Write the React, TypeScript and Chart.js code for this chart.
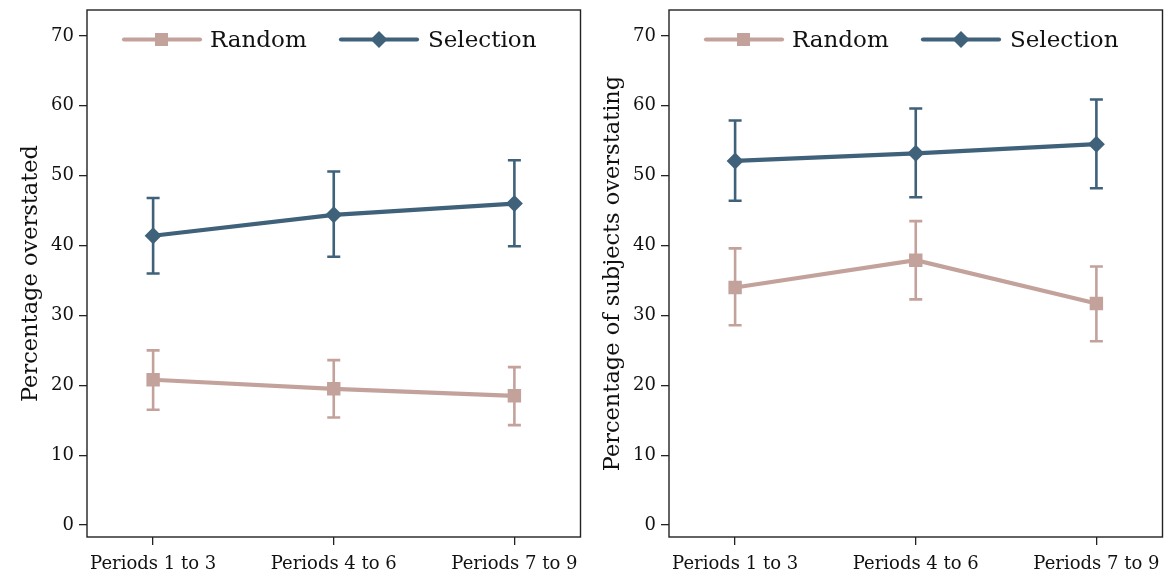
import React, { useEffect, useRef } from "react";
import { Chart, registerables } from "chart.js";

Chart.register(...registerables);

const categories = ["Periods 1 to 3", "Periods 4 to 6", "Periods 7 to 9"];
const yTicks = [0, 10, 20, 30, 40, 50, 60, 70];
const seriesNames = ["Random", "Selection"];

const leftRandom = [20.8, 19.5, 18.5];
const leftRandomLow = [16.5, 15.4, 14.3];
const leftRandomHigh = [25.0, 23.6, 22.6];
const leftSelection = [41.4, 44.4, 46.0];
const leftSelectionLow = [36.0, 38.4, 39.9];
const leftSelectionHigh = [46.8, 50.6, 52.2];

const rightRandom = [34.0, 37.9, 31.7];
const rightRandomLow = [28.6, 32.3, 26.3];
const rightRandomHigh = [39.6, 43.5, 37.0];
const rightSelection = [52.1, 53.2, 54.5];
const rightSelectionLow = [46.4, 46.9, 48.2];
const rightSelectionHigh = [57.9, 59.6, 60.9];

const leftTitle = "Percentage overstated";
const rightTitle = "Percentage of subjects overstating";

const RANDOM_COLOR = "#c4a29c";
const SELECTION_COLOR = "#3f6179";
const FONT = "'DejaVu Serif', serif";

type PanelData = {
  title: string;
  random: number[];
  randomLow: number[];
  randomHigh: number[];
  selection: number[];
  selectionLow: number[];
  selectionHigh: number[];
};

const panels: PanelData[] = [
  {
    title: leftTitle,
    random: leftRandom,
    randomLow: leftRandomLow,
    randomHigh: leftRandomHigh,
    selection: leftSelection,
    selectionLow: leftSelectionLow,
    selectionHigh: leftSelectionHigh,
  },
  {
    title: rightTitle,
    random: rightRandom,
    randomLow: rightRandomLow,
    randomHigh: rightRandomHigh,
    selection: rightSelection,
    selectionLow: rightSelectionLow,
    selectionHigh: rightSelectionHigh,
  },
];

function drawSquare(ctx: CanvasRenderingContext2D, x: number, y: number, half: number) {
  ctx.fillRect(x - half, y - half, half * 2, half * 2);
}
function drawDiamond(ctx: CanvasRenderingContext2D, x: number, y: number, r: number) {
  ctx.beginPath();
  ctx.moveTo(x, y - r);
  ctx.lineTo(x + r, y);
  ctx.lineTo(x, y + r);
  ctx.lineTo(x - r, y);
  ctx.closePath();
  ctx.fill();
}

function makeChart(canvas: HTMLCanvasElement, p: PanelData) {
  const errorBars = [
    { low: p.randomLow, high: p.randomHigh, color: RANDOM_COLOR },
    { low: p.selectionLow, high: p.selectionHigh, color: SELECTION_COLOR },
  ];

  const errorPlugin = {
    id: "errorBars",
    beforeDatasetsDraw(chart: any) {
      const ctx = chart.ctx as CanvasRenderingContext2D;
      const xs = chart.scales.x;
      const ys = chart.scales.y;
      ctx.save();
      errorBars.forEach((eb) => {
        ctx.strokeStyle = eb.color;
        ctx.lineWidth = 2.6;
        eb.low.forEach((lo, i) => {
          const x = xs.getPixelForValue(i);
          const y1 = ys.getPixelForValue(lo);
          const y2 = ys.getPixelForValue(eb.high[i]);
          ctx.beginPath();
          ctx.moveTo(x, y1);
          ctx.lineTo(x, y2);
          ctx.moveTo(x - 6.5, y1);
          ctx.lineTo(x + 6.5, y1);
          ctx.moveTo(x - 6.5, y2);
          ctx.lineTo(x + 6.5, y2);
          ctx.stroke();
        });
      });
      ctx.restore();
    },
  };

  const framePlugin = {
    id: "frameLegend",
    afterDraw(chart: any) {
      const ctx = chart.ctx as CanvasRenderingContext2D;
      const a = chart.chartArea;
      ctx.save();
      ctx.strokeStyle = "#222";
      ctx.lineWidth = 1.4;
      ctx.strokeRect(a.left, a.top, a.right - a.left, a.bottom - a.top);

      // legend
      const ly = a.top + 29.5;
      ctx.lineCap = "round";
      ctx.lineWidth = 4.2;
      ctx.strokeStyle = RANDOM_COLOR;
      ctx.beginPath();
      ctx.moveTo(a.left + 37, ly);
      ctx.lineTo(a.left + 113, ly);
      ctx.stroke();
      ctx.fillStyle = RANDOM_COLOR;
      drawSquare(ctx, a.left + 74.5, ly, 6.5);

      ctx.strokeStyle = SELECTION_COLOR;
      ctx.beginPath();
      ctx.moveTo(a.left + 254, ly);
      ctx.lineTo(a.left + 330, ly);
      ctx.stroke();
      ctx.fillStyle = SELECTION_COLOR;
      drawDiamond(ctx, a.left + 292, ly, 8.5);

      ctx.fillStyle = "#111";
      ctx.font = `23px ${FONT}`;
      ctx.textBaseline = "middle";
      ctx.textAlign = "left";
      ctx.fillText(seriesNames[0], a.left + 123, ly + 2);
      ctx.fillText(seriesNames[1], a.left + 341, ly + 2);
      ctx.restore();
    },
  };

  const toPts = (arr: number[]) => arr.map((v, i) => ({ x: i, y: v }));

  return new Chart(canvas, {
    type: "line",
    data: {
      datasets: [
        {
          label: seriesNames[0],
          data: toPts(p.random),
          borderColor: RANDOM_COLOR,
          backgroundColor: RANDOM_COLOR,
          borderWidth: 4.2,
          pointStyle: "rect",
          pointRadius: 9.5,
          pointBorderWidth: 0,
          pointBackgroundColor: RANDOM_COLOR,
          tension: 0,
        },
        {
          label: seriesNames[1],
          data: toPts(p.selection),
          borderColor: SELECTION_COLOR,
          backgroundColor: SELECTION_COLOR,
          borderWidth: 4.2,
          pointStyle: "rectRot",
          pointRadius: 8.5,
          pointBorderWidth: 0,
          pointBackgroundColor: SELECTION_COLOR,
          tension: 0,
        },
      ],
    },
    options: {
      animation: false,
      responsive: false,
      maintainAspectRatio: false,
      events: [],
      layout: { padding: { top: 10, right: 0, left: 0, bottom: 0 } },
      plugins: { legend: { display: false }, tooltip: { enabled: false } },
      scales: {
        x: {
          type: "linear",
          min: -0.366,
          max: 2.366,
          afterBuildTicks(scale: any) {
            scale.ticks = categories.map((_, i) => ({ value: i }));
          },
          afterFit(scale: any) {
            scale.height = 43;
            scale.paddingLeft = 0;
            scale.paddingRight = 0;
          },
          grid: {
            drawOnChartArea: false,
            drawTicks: true,
            tickLength: 8,
            color: "#222",
            lineWidth: 1.3,
          },
          border: { display: false },
          ticks: {
            autoSkip: false,
            maxRotation: 0,
            padding: 9,
            color: "#111",
            font: { family: FONT, size: 18 },
            callback: (v: any) => categories[Math.round(Number(v))] ?? "",
          },
        },
        y: {
          type: "linear",
          min: -1.7,
          max: 73.7,
          afterBuildTicks(scale: any) {
            scale.ticks = yTicks.map((v) => ({ value: v }));
          },
          afterFit(scale: any) {
            scale.width = 87;
            scale.paddingTop = 0;
            scale.paddingBottom = 0;
          },
          grid: {
            drawOnChartArea: false,
            drawTicks: true,
            tickLength: 8,
            color: "#222",
            lineWidth: 1.3,
          },
          border: { display: false },
          ticks: {
            padding: 5,
            color: "#111",
            font: { family: FONT, size: 18 },
          },
          title: {
            display: true,
            text: p.title,
            color: "#111",
            font: { family: FONT, size: 22.5 },
            padding: { top: 18, bottom: 0 },
          },
        },
      },
    },
    plugins: [errorPlugin, framePlugin],
  } as any);
}

function Panel({ p, left }: { p: PanelData; left: number }) {
  const ref = useRef<HTMLCanvasElement>(null);
  useEffect(() => {
    if (!ref.current) return;
    const c = makeChart(ref.current, p);
    return () => c.destroy();
  }, [p]);
  return (
    <canvas
      ref={ref}
      width={590}
      height={580}
      style={{ position: "absolute", left, top: 0, width: 590, height: 580 }}
    />
  );
}

export default function App() {
  useEffect(() => {
    document.body.style.margin = "0";
  }, []);
  return (
    <div style={{ position: "relative", width: 1173, height: 580, background: "#fff", overflow: "hidden" }}>
      <Panel p={panels[0]} left={0} />
      <Panel p={panels[1]} left={582} />
    </div>
  );
}
